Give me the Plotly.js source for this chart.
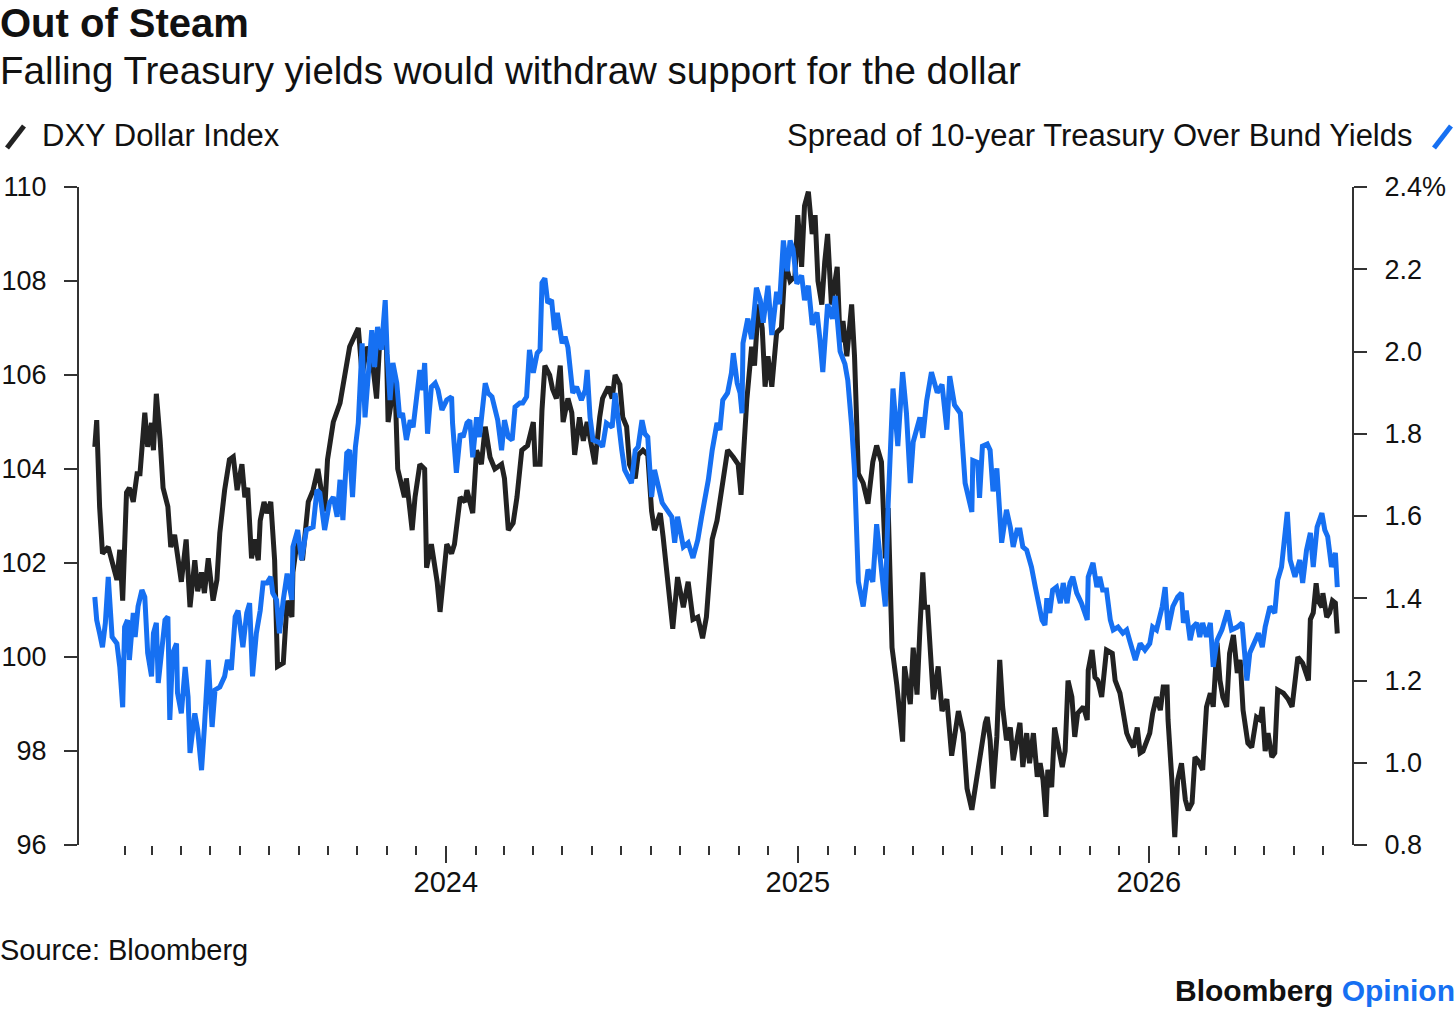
<!DOCTYPE html>
<html>
<head>
<meta charset="utf-8">
<script src="https://cdn.plot.ly/plotly-3.0.1.min.js"></script>
<style>
  html, body { margin: 0; padding: 0; background: #fff; }
  #chart { width: 1456px; height: 1011px; }
</style>
</head>
<body>
<div id="chart"></div>
<script>
// DATA (days counted from 2023-01-01)
const dxyDays = [
  0, 2, 5, 8, 14, 18, 23, 26, 29, 33,
  36, 40, 44, 47, 50, 52, 55, 59, 61, 64,
  68, 71, 76, 79, 83, 86, 90, 95, 99, 104,
  107, 111, 114, 118, 123, 127, 130, 135, 140, 144,
  148, 153, 156, 159, 163, 166, 170, 172, 176, 179,
  183, 187, 190, 196, 200, 205, 206, 211, 216, 222,
  227, 232, 239, 242, 248, 255, 265, 274, 278, 283,
  288, 293, 296, 303, 305, 312, 315, 322, 324, 330,
  333, 338, 343, 345, 350, 356, 359, 366, 371, 374,
  380, 385, 387, 393, 397, 402, 406, 411, 416, 423,
  426, 430, 435, 439, 444, 450, 456, 458, 463, 465,
  468, 473, 476, 480, 484, 487, 492, 496, 499, 504,
  508, 512, 517, 520, 525, 528, 534, 538, 541, 546,
  549, 553, 556, 562, 565, 570, 575, 579, 582, 588,
  591, 596, 601, 606, 612, 617, 622, 627, 632, 636,
  642, 647, 652, 658, 664, 669, 672, 678, 683, 686,
  690, 694, 697, 700, 704, 709, 714, 718, 723, 728,
  731, 735, 738, 742, 746, 749, 752, 756, 759, 762,
  766, 772, 775, 778, 782, 787, 790, 794, 799, 804,
  809, 813, 818, 822, 825, 829, 834, 840, 842, 848,
  851, 855, 858, 861, 863, 866, 872, 877, 881, 886,
  891, 898, 903, 907, 912, 915, 918, 922, 926, 928,
  931, 934, 938, 941, 944, 948, 952, 955, 959, 962,
  965, 969, 972, 976, 980, 983, 986, 989, 991, 995,
  998, 1002, 1006, 1009, 1012, 1016, 1019, 1022, 1028, 1032,
  1033, 1037, 1040, 1043, 1047, 1052, 1058, 1061, 1066, 1069,
  1073, 1076, 1080, 1084, 1087, 1090, 1094, 1097, 1100, 1104,
  1108, 1111, 1115, 1116, 1120, 1123, 1126, 1130, 1134, 1137,
  1141, 1144, 1147, 1152, 1156, 1160, 1163, 1167, 1170, 1173,
  1177, 1180, 1184, 1188, 1191, 1194, 1199, 1203, 1208, 1212,
  1214, 1217, 1220, 1224, 1227, 1230, 1236, 1241, 1245, 1248,
  1251, 1256, 1262, 1264, 1267, 1270, 1272, 1276, 1277, 1281,
  1284, 1287, 1290, 1292
];
const dxyValues = [
  104.47, 105.04, 103.2, 102.2, 102.34, 102.06, 101.64, 102.28, 101.2, 103.5,
  103.6, 103.3, 103.9, 103.9, 104.55, 105.2, 104.47, 104.98, 104.4, 105.6,
  104.6, 103.6, 103.2, 102.34, 102.6, 102.1, 101.6, 102.5, 101.06, 102.06,
  101.4, 101.8, 101.36, 102.1, 101.2, 101.64, 102.64, 103.55, 104.2, 104.26,
  103.55, 104.1, 103.4, 103.6, 102.1, 102.5, 102.06, 102.9, 103.3, 103.06,
  103.3, 102.06, 99.8, 99.87, 101.2, 100.85, 101.8, 102.55, 102.06, 103.3,
  103.55, 104.0, 103.1, 104.2, 105.0, 105.4, 106.6, 107.0, 106.0, 106.6,
  106.4, 105.5, 106.6, 106.85, 105.0, 105.9, 104.0, 103.4, 103.8, 102.7,
  103.4, 104.1, 104.0, 101.9, 102.4, 101.6, 100.96, 102.4, 102.2, 102.4,
  103.4, 103.3, 103.55, 103.06, 104.4, 104.1, 104.9, 104.25, 104.0, 104.1,
  103.8, 102.7, 102.85, 103.4, 104.4, 104.5, 105.0, 104.1, 104.1, 105.25,
  106.2, 106.0, 105.7, 105.5, 106.2, 105.0, 105.5, 105.2, 104.3, 105.1,
  104.6, 105.0, 104.5, 104.1, 105.1, 105.5, 105.75, 105.5, 106.0, 105.8,
  105.1, 104.9, 104.1, 103.8, 104.3, 104.4, 104.3, 103.1, 102.7, 103.06,
  102.55, 101.5, 100.6, 101.7, 101.06, 101.6, 100.8, 100.85, 100.4, 100.85,
  102.5, 102.9, 103.55, 104.4, 104.25, 104.1, 103.45, 105.47, 106.6, 106.2,
  107.5, 107.0, 105.75, 106.4, 105.75, 106.9, 107.0, 108.4, 108.0, 108.1,
  109.4, 108.3, 109.6, 109.9, 109.0, 109.4, 108.0, 107.5, 108.4, 109.0,
  107.5, 108.3, 106.7, 107.15, 106.4, 107.5, 106.4, 103.9, 103.7, 103.26,
  104.15, 104.5, 104.15, 102.1, 103.17, 100.2, 99.4, 98.2, 99.8, 99.0,
  100.2, 99.2, 100.6, 101.8, 101.06, 101.06, 99.1, 99.8, 98.85, 99.1,
  97.9, 98.85, 98.38, 97.2, 96.75, 97.17, 97.45, 98.0, 98.6, 98.72,
  98.23, 97.2, 98.3, 99.94, 98.94, 98.23, 98.5, 97.8, 98.23, 98.6,
  97.66, 98.38, 97.74, 98.38, 97.45, 97.74, 97.38, 96.6, 97.6, 97.23,
  98.5, 98.0, 97.66, 98.0, 99.5, 99.15, 98.3, 98.8, 98.94, 98.66,
  99.72, 100.15, 99.57, 99.5, 99.15, 100.15, 100.08, 99.5, 99.23, 98.87,
  98.38, 98.23, 98.08, 98.5, 97.96, 98.0, 98.23, 98.38, 98.8, 99.15,
  98.87, 99.36, 99.36, 98.66, 97.38, 96.17, 97.38, 97.74, 96.96, 96.74,
  96.9, 97.87, 97.8, 97.6, 98.94, 99.23, 98.94, 100.3, 99.5, 99.15,
  98.94, 100.08, 100.47, 99.66, 99.94, 98.87, 98.17, 98.08, 98.72, 98.66,
  98.94, 98.0, 98.38, 97.87, 97.96, 99.3, 99.23, 99.1, 98.94, 99.5,
  100.0, 99.87, 99.5, 100.8, 100.94, 101.57, 101.2, 101.06, 101.36, 100.85,
  100.94, 101.2, 101.15, 100.5
];

const spreadDays = [
  0, 2, 5, 8, 11, 14, 18, 23, 26, 29,
  31, 34, 36, 40, 42, 45, 49, 52, 55, 59,
  61, 64, 66, 70, 73, 76, 78, 81, 85, 86,
  90, 94, 97, 99, 104, 107, 111, 114, 118, 122,
  125, 130, 135, 138, 142, 146, 149, 154, 158, 161,
  164, 168, 172, 175, 179, 183, 185, 189, 192, 196,
  200, 205, 206, 211, 215, 220, 227, 231, 234, 239,
  244, 248, 252, 255, 258, 262, 265, 268, 271, 274,
  278, 281, 284, 288, 291, 294, 298, 302, 304, 307,
  310, 314, 317, 320, 324, 328, 331, 335, 338, 341,
  343, 346, 350, 354, 357, 361, 366, 371, 372, 376,
  380, 383, 387, 390, 393, 397, 400, 406, 409, 413,
  416, 419, 423, 426, 430, 434, 437, 442, 445, 449,
  452, 456, 460, 463, 465, 468, 471, 475, 478, 481,
  486, 489, 492, 494, 497, 501, 506, 510, 512, 515,
  518, 525, 528, 532, 538, 541, 544, 548, 551, 554,
  558, 562, 565, 569, 572, 575, 579, 582, 585, 590,
  595, 600, 603, 606, 612, 617, 622, 627, 631, 634,
  638, 642, 647, 650, 653, 658, 662, 664, 668, 671,
  673, 674, 679, 683, 688, 692, 695, 700, 704, 709,
  712, 716, 720, 723, 726, 730, 735, 738, 742, 746,
  751, 754, 757, 762, 767, 770, 775, 780, 783, 787,
  790, 794, 799, 804, 809, 813, 816, 822, 825, 830,
  835, 840, 844, 848, 851, 855, 858, 861, 865, 870,
  876, 881, 886, 889, 894, 900, 905, 912, 913, 918,
  920, 923, 928, 931, 934, 938, 941, 943, 948, 952,
  955, 959, 962, 965, 969, 974, 978, 981, 985, 988,
  990, 993, 996, 1000, 1004, 1007, 1011, 1014, 1017, 1021,
  1026, 1032, 1033, 1038, 1042, 1045, 1048, 1052, 1056, 1059,
  1064, 1069, 1073, 1076, 1082, 1087, 1092, 1097, 1100, 1104,
  1110, 1113, 1116, 1121, 1126, 1130, 1132, 1135, 1139, 1142,
  1146, 1149, 1152, 1156, 1160, 1163, 1167, 1172, 1175, 1178,
  1182, 1188, 1193, 1198, 1201, 1206, 1210, 1214, 1217, 1222,
  1227, 1230, 1234, 1240, 1243, 1248, 1253, 1256, 1260, 1264,
  1267, 1271, 1276, 1279, 1282, 1286, 1290, 1292
];
const spreadValues = [
  1.403, 1.347, 1.315, 1.281, 1.34, 1.452, 1.306, 1.29, 1.233, 1.135,
  1.33, 1.347, 1.25, 1.364, 1.306, 1.38, 1.42, 1.403, 1.267, 1.21,
  1.315, 1.34, 1.194, 1.29, 1.347, 1.355, 1.104, 1.267, 1.29, 1.17,
  1.12, 1.233, 1.16, 1.024, 1.12, 1.08, 0.982, 1.087, 1.25, 1.087,
  1.177, 1.184, 1.21, 1.25, 1.226, 1.355, 1.37, 1.281, 1.364, 1.388,
  1.21, 1.315, 1.37, 1.437, 1.437, 1.452, 1.413, 1.396, 1.315, 1.396,
  1.46, 1.396, 1.525, 1.566, 1.493, 1.566, 1.573, 1.663, 1.656, 1.566,
  1.632, 1.646, 1.598, 1.688, 1.59, 1.753, 1.76, 1.646, 1.768, 1.826,
  2.02, 1.84, 1.923, 2.052, 1.962, 2.06, 2.004, 2.125, 1.996, 1.882,
  1.972, 1.923, 1.84, 1.85, 1.785, 1.833, 1.816, 1.89, 1.955, 1.906,
  1.972, 1.80, 1.914, 1.923, 1.906, 1.858, 1.882, 1.89, 1.826, 1.705,
  1.80, 1.792, 1.826, 1.833, 1.743, 1.84, 1.792, 1.923, 1.899, 1.89,
  1.865, 1.833, 1.76, 1.833, 1.792, 1.785, 1.865, 1.875, 1.875, 1.89,
  2.004, 1.948, 1.996, 2.004, 2.167, 2.178, 2.118, 2.125, 2.052, 2.094,
  2.02, 2.036, 2.01, 1.962, 1.899, 1.914, 1.882, 1.906, 1.955, 1.84,
  1.785, 1.778, 1.768, 1.826, 1.816, 1.899, 1.826, 1.76, 1.712, 1.695,
  1.68, 1.76, 1.768, 1.833, 1.80, 1.792, 1.646, 1.712, 1.68, 1.632,
  1.615, 1.598, 1.535, 1.598, 1.525, 1.535, 1.498, 1.542, 1.598, 1.632,
  1.688, 1.76, 1.826, 1.809, 1.882, 1.899, 1.948, 1.996, 1.923, 1.899,
  1.85, 2.02, 2.08, 2.03, 2.155, 2.125, 2.07, 2.16, 2.04, 2.145,
  2.115, 2.27, 2.195, 2.27, 2.25, 2.165, 2.185, 2.125, 2.16, 2.065,
  2.095, 2.03, 1.95, 2.115, 2.08, 2.135, 2.0, 1.97, 1.93, 1.82,
  1.71, 1.44, 1.38, 1.47, 1.44, 1.58, 1.51, 1.38, 1.63, 1.91,
  1.77, 1.95, 1.85, 1.68, 1.78, 1.82, 1.84, 1.79, 1.88, 1.95,
  1.90, 1.92, 1.81, 1.94, 1.87, 1.85, 1.68, 1.61, 1.735, 1.73,
  1.644, 1.77, 1.775, 1.76, 1.66, 1.716, 1.61, 1.535, 1.615, 1.573,
  1.525, 1.566, 1.566, 1.525, 1.517, 1.476, 1.427, 1.396, 1.347, 1.335,
  1.40, 1.364, 1.42, 1.427, 1.388, 1.437, 1.388, 1.437, 1.452, 1.413,
  1.388, 1.347, 1.452, 1.486, 1.427, 1.452, 1.42, 1.42, 1.347, 1.323,
  1.33, 1.315, 1.323, 1.298, 1.25, 1.29, 1.274, 1.29, 1.33, 1.323,
  1.38, 1.427, 1.323, 1.38, 1.403, 1.413, 1.34, 1.37, 1.298, 1.33,
  1.34, 1.306, 1.34, 1.306, 1.34, 1.233, 1.298, 1.323, 1.347, 1.37,
  1.323, 1.33, 1.34, 1.20, 1.267, 1.29, 1.315, 1.281, 1.33, 1.38,
  1.364, 1.444, 1.476, 1.61, 1.493, 1.452, 1.493, 1.437, 1.517, 1.559,
  1.476, 1.573, 1.607, 1.566, 1.55, 1.476, 1.51, 1.427
];

const leftTicks = [96, 98, 100, 102, 104, 106, 108, 110];
const rightTicks = [0.8, 1.0, 1.2, 1.4, 1.6, 1.8, 2.0, 2.2, 2.4];
const rightTickText = ['0.8', '1.0', '1.2', '1.4', '1.6', '1.8', '2.0', '2.2', '2.4%'];
const yearTicks = ['2024-01-01', '2025-01-01', '2026-01-01'];
const yearLabels = ['2024', '2025', '2026'];

const BLACK = '#222222';
const BLUE = '#1670f2';
const AXIS = '#333333';
const FONT = '"Liberation Sans", Arial, sans-serif';

if (dxyDays.length !== dxyValues.length) console.error('dxy length mismatch', dxyDays.length, dxyValues.length);
if (spreadDays.length !== spreadValues.length) console.error('spread length mismatch', spreadDays.length, spreadValues.length);

function dayToDate(d) {
  return new Date(Date.UTC(2023, 0, 1) + d * 86400000).toISOString().slice(0, 10);
}

// monthly minor ticks, Feb 2023 .. Jul 2026 (Januaries carry the year ticks)
let monthTicks = [];
for (let y = 2023; y <= 2026; y++) {
  for (let m = 2; m <= 12; m++) {
    if (y === 2026 && m > 7) continue;
    monthTicks.push(y + '-' + String(m).padStart(2, '0') + '-01');
  }
}

let traces = [
  {
    x: spreadDays.map(dayToDate),
    y: spreadValues,
    yaxis: 'y2',
    type: 'scatter',
    mode: 'lines',
    line: { color: BLUE, width: 5 },
    hoverinfo: 'skip'
  },
  {
    x: dxyDays.map(dayToDate),
    y: dxyValues,
    yaxis: 'y',
    type: 'scatter',
    mode: 'lines',
    line: { color: BLACK, width: 5 },
    hoverinfo: 'skip'
  }
];

// plot area spans px 79..1352 horizontally, 187..845 vertically
const px = v => (v - 79) / 1273;
const py = v => (845 - v) / 658;

let defaultYAxis = {
  showgrid: false,
  zeroline: false,
  showline: true,
  linecolor: AXIS,
  linewidth: 2,
  ticks: 'outside',
  ticklen: 13,
  tickwidth: 2,
  tickcolor: AXIS,
  ticklabelstandoff: 12,
  tickfont: { family: FONT, size: 27, color: '#111' },
  fixedrange: true
};

let layout = {
  width: 1456,
  height: 1011,
  paper_bgcolor: '#fff',
  plot_bgcolor: '#fff',
  showlegend: false,
  hovermode: false,
  margin: { l: 79, r: 104, t: 187, b: 166, pad: 0 },
  font: { family: FONT, color: '#111' },
  xaxis: {
    type: 'date',
    range: ['2022-12-15 14:00', '2026-07-31 07:00'],
    showgrid: false,
    zeroline: false,
    showline: false,
    tickmode: 'array',
    tickvals: yearTicks,
    ticktext: yearLabels,
    ticks: 'outside',
    ticklen: 17,
    tickwidth: 2,
    tickcolor: AXIS,
    ticklabelstandoff: -6,
    tickfont: { family: FONT, size: 29, color: '#111' },
    minor: {
      tickmode: 'array',
      tickvals: monthTicks,
      ticks: 'outside',
      ticklen: 9,
      tickwidth: 2,
      tickcolor: AXIS,
      showgrid: false
    },
    fixedrange: true
  },
  yaxis: Object.assign({}, defaultYAxis, {
    range: [96, 110],
    tickmode: 'array',
    tickvals: leftTicks,
    side: 'left'
  }),
  yaxis2: Object.assign({}, defaultYAxis, {
    range: [0.8, 2.4],
    tickmode: 'array',
    tickvals: rightTicks,
    ticktext: rightTickText,
    overlaying: 'y',
    side: 'right'
  }),
  shapes: [
    { type: 'line', xref: 'paper', yref: 'paper', x0: px(7), y0: py(148), x1: px(24), y1: py(126),
      line: { color: BLACK, width: 5 } },
    { type: 'line', xref: 'paper', yref: 'paper', x0: px(1434), y0: py(148), x1: px(1451), y1: py(126),
      line: { color: BLUE, width: 5 } }
  ],
  annotations: [
    { text: '<b>Out of Steam</b>', xref: 'paper', yref: 'paper', x: px(-2), y: py(23),
      xanchor: 'left', yanchor: 'middle', showarrow: false, font: { family: FONT, size: 40, color: '#111' } },
    { text: 'Falling Treasury yields would withdraw support for the dollar', xref: 'paper', yref: 'paper',
      x: px(-2), y: py(70), xanchor: 'left', yanchor: 'middle', showarrow: false,
      font: { family: FONT, size: 38.5, color: '#111' } },
    { text: 'DXY Dollar Index', xref: 'paper', yref: 'paper', x: px(40), y: py(135),
      xanchor: 'left', yanchor: 'middle', showarrow: false, font: { family: FONT, size: 31, color: '#111' } },
    { text: 'Spread of 10-year Treasury Over Bund Yields', xref: 'paper', yref: 'paper', x: px(1415), y: py(135),
      xanchor: 'right', yanchor: 'middle', showarrow: false, font: { family: FONT, size: 31, color: '#111' } },
    { text: 'Source: Bloomberg', xref: 'paper', yref: 'paper', x: px(-2), y: py(950),
      xanchor: 'left', yanchor: 'middle', showarrow: false, font: { family: FONT, size: 29, color: '#111' } },
    { text: '<b>Bloomberg <span style="color:' + BLUE + '">Opinion</span></b>', xref: 'paper', yref: 'paper',
      x: px(1457), y: py(990), xanchor: 'right', yanchor: 'middle', showarrow: false,
      font: { family: FONT, size: 30, color: '#111' } }
  ]
};

Plotly.newPlot('chart', traces, layout, { displayModeBar: false, staticPlot: true });
</script>
</body>
</html>
